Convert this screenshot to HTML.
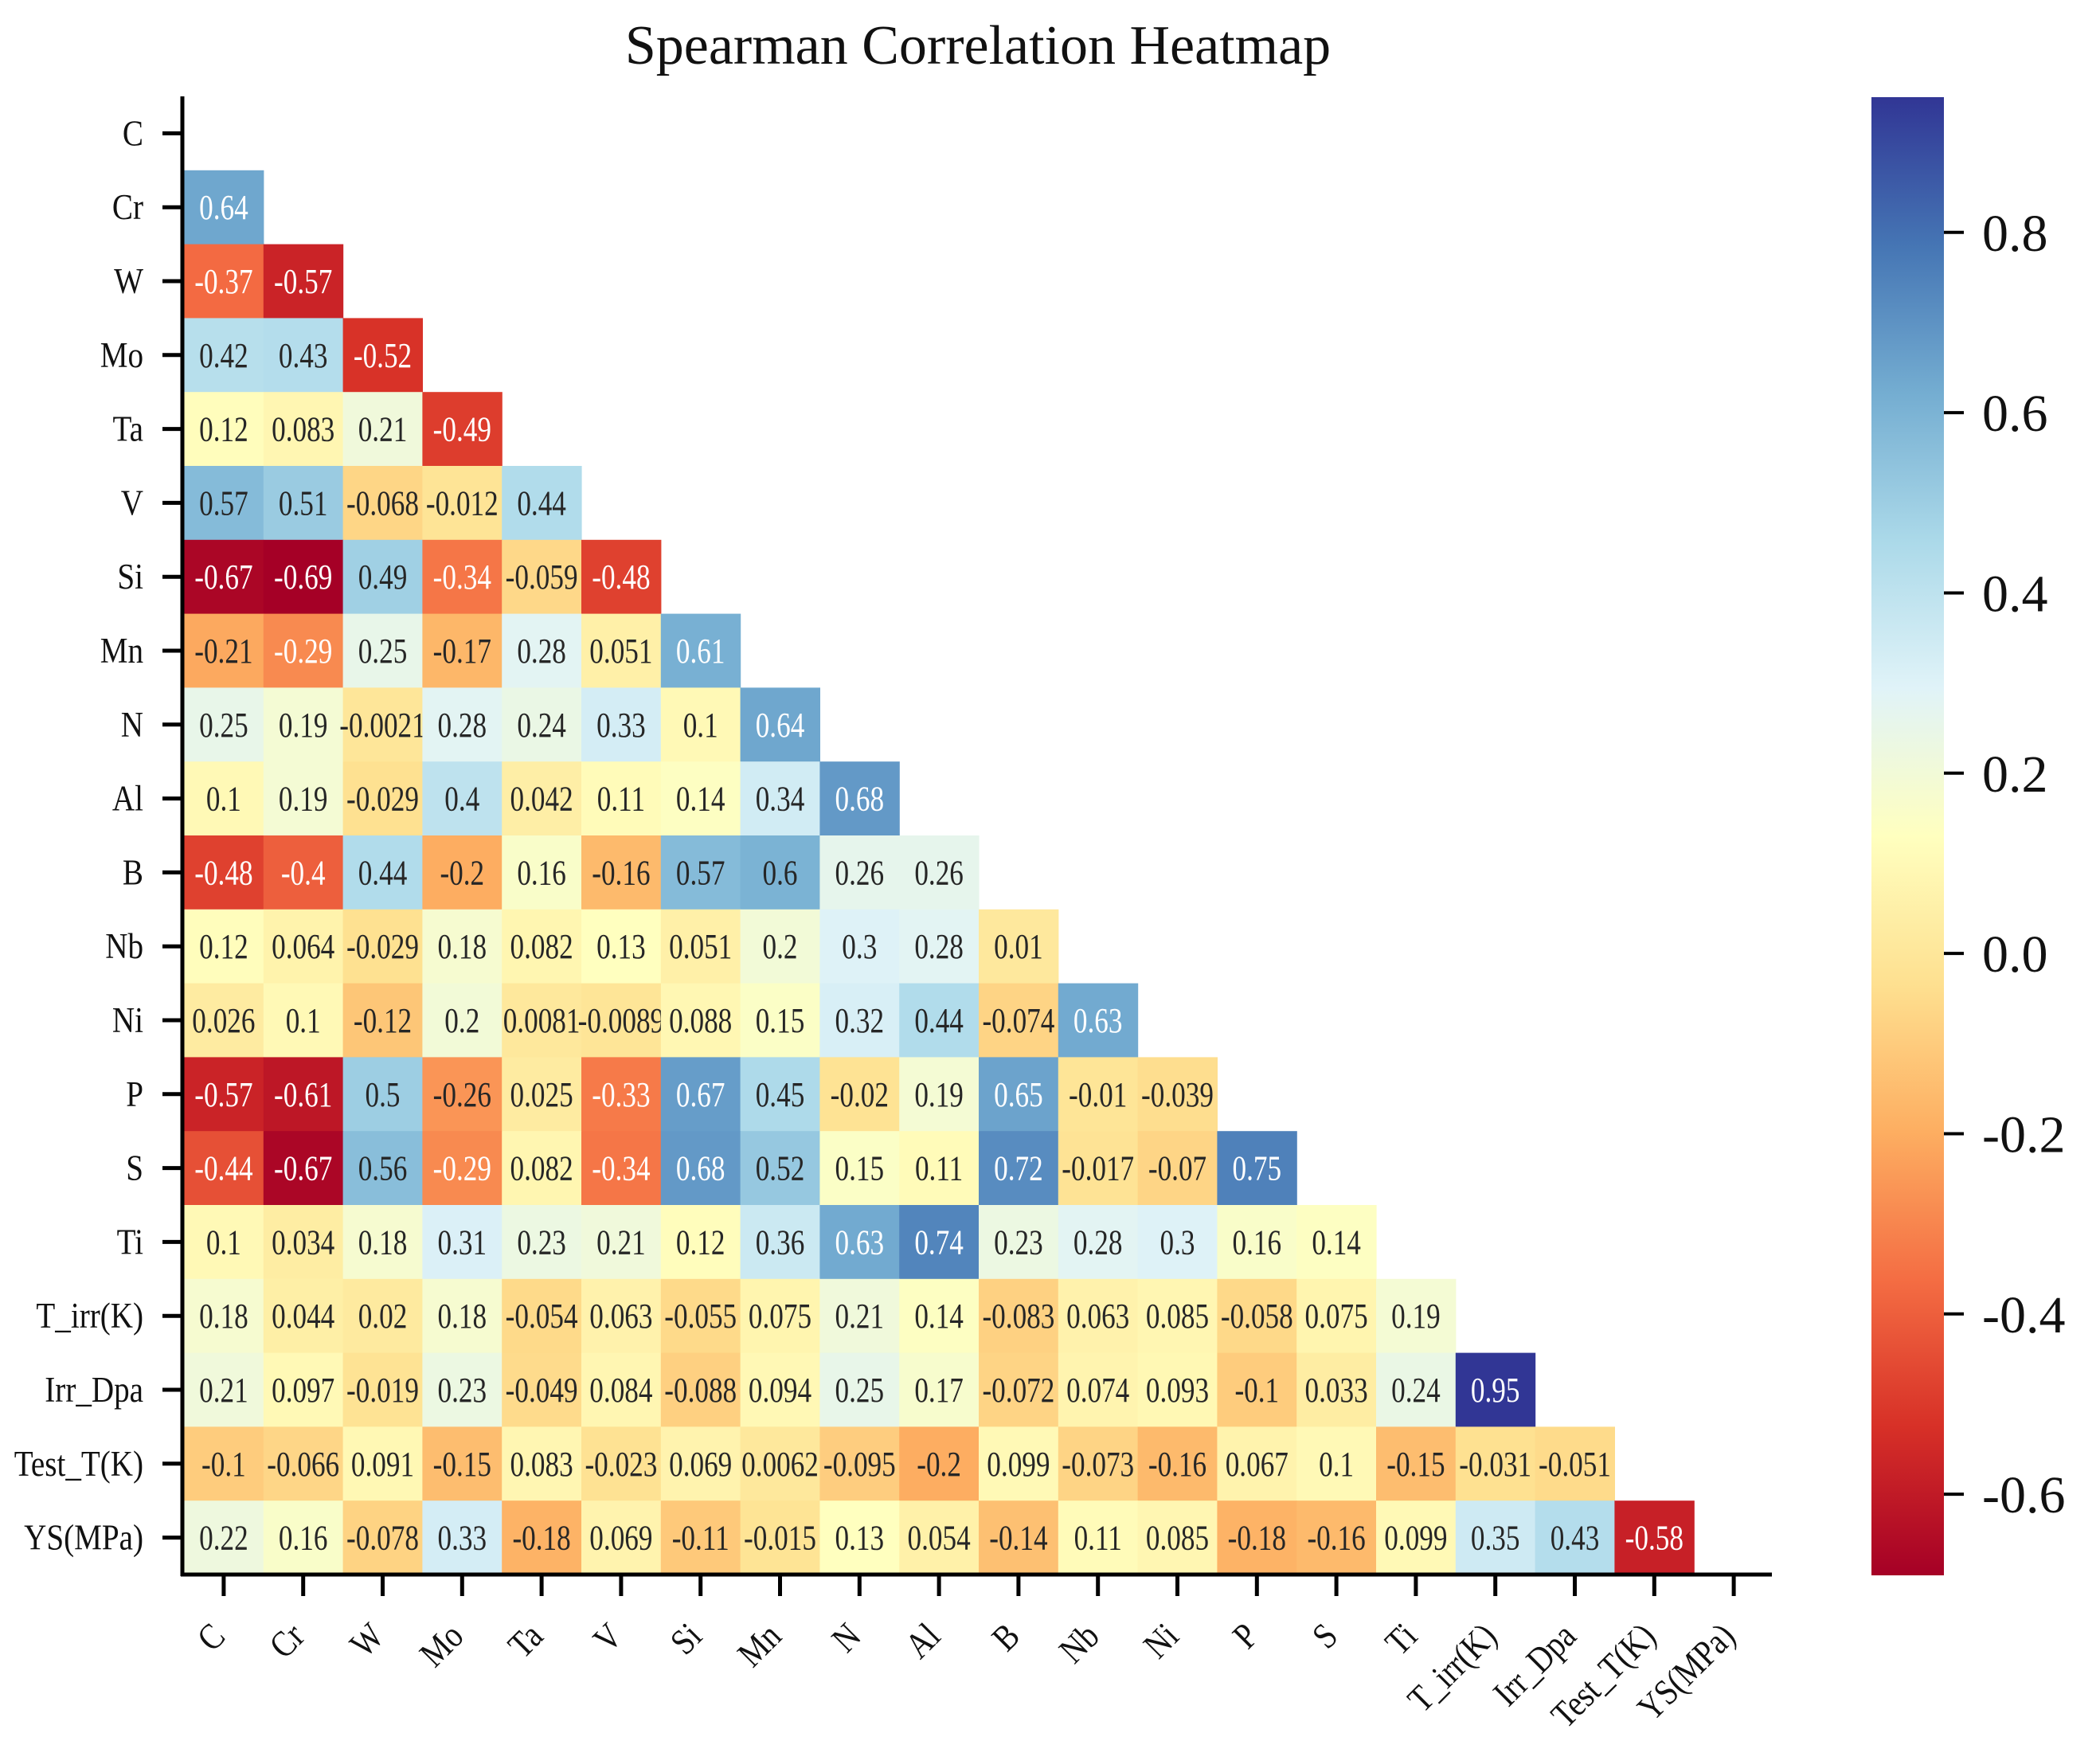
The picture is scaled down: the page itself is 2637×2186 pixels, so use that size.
<!DOCTYPE html>
<html><head><meta charset="utf-8">
<style>
html,body{margin:0;padding:0;background:#fff;}
svg{display:block;font-family:"Liberation Serif","DejaVu Serif",serif;}
</style></head>
<body>
<svg id="chart" width="2637" height="2186" viewBox="0 0 2637 2186" xmlns="http://www.w3.org/2000/svg">
<defs>
<linearGradient id="cbgrad" x1="0" y1="1" x2="0" y2="0">
<stop offset="0" stop-color="#a50026"/><stop offset="0.1" stop-color="#d73027"/><stop offset="0.2" stop-color="#f46d43"/><stop offset="0.3" stop-color="#fdae61"/><stop offset="0.4" stop-color="#fee090"/><stop offset="0.5" stop-color="#ffffbf"/><stop offset="0.6" stop-color="#e0f3f8"/><stop offset="0.7" stop-color="#abd9e9"/><stop offset="0.8" stop-color="#74add1"/><stop offset="0.9" stop-color="#4575b4"/><stop offset="1" stop-color="#313695"/>
</linearGradient>
</defs>
<text x="1228" y="80" font-size="70" text-anchor="middle" fill="#111">Spearman Correlation Heatmap</text>
<g id="cells"></g>
<g id="axes"></g>
<g id="colorbar"></g>
</svg>
<script>
const labels = ["C","Cr","W","Mo","Ta","V","Si","Mn","N","Al","B","Nb","Ni","P","S","Ti","T_irr(K)","Irr_Dpa","Test_T(K)","YS(MPa)"];
const rowCr = [0.64];
const rowW = [-0.37,-0.57];
const rowMo = [0.42,0.43,-0.52];
const rowTa = [0.12,0.083,0.21,-0.49];
const rowV = [0.57,0.51,-0.068,-0.012,0.44];
const rowSi = [-0.67,-0.69,0.49,-0.34,-0.059,-0.48];
const rowMn = [-0.21,-0.29,0.25,-0.17,0.28,0.051,0.61];
const rowN = [0.25,0.19,-0.0021,0.28,0.24,0.33,0.1,0.64];
const rowAl = [0.1,0.19,-0.029,0.4,0.042,0.11,0.14,0.34,0.68];
const rowB = [-0.48,-0.4,0.44,-0.2,0.16,-0.16,0.57,0.6,0.26,0.26];
const rowNb = [0.12,0.064,-0.029,0.18,0.082,0.13,0.051,0.2,0.3,0.28,0.01];
const rowNi = [0.026,0.1,-0.12,0.2,0.0081,-0.0089,0.088,0.15,0.32,0.44,-0.074,0.63];
const rowP = [-0.57,-0.61,0.5,-0.26,0.025,-0.33,0.67,0.45,-0.02,0.19,0.65,-0.01,-0.039];
const rowS = [-0.44,-0.67,0.56,-0.29,0.082,-0.34,0.68,0.52,0.15,0.11,0.72,-0.017,-0.07,0.75];
const rowTi = [0.1,0.034,0.18,0.31,0.23,0.21,0.12,0.36,0.63,0.74,0.23,0.28,0.3,0.16,0.14];
const rowTirr = [0.18,0.044,0.02,0.18,-0.054,0.063,-0.055,0.075,0.21,0.14,-0.083,0.063,0.085,-0.058,0.075,0.19];
const rowIrr = [0.21,0.097,-0.019,0.23,-0.049,0.084,-0.088,0.094,0.25,0.17,-0.072,0.074,0.093,-0.1,0.033,0.24,0.95];
const rowTest = [-0.1,-0.066,0.091,-0.15,0.083,-0.023,0.069,0.0062,-0.095,-0.2,0.099,-0.073,-0.16,0.067,0.1,-0.15,-0.031,-0.051];
const rowYS = [0.22,0.16,-0.078,0.33,-0.18,0.069,-0.11,-0.015,0.13,0.054,-0.14,0.11,0.085,-0.18,-0.16,0.099,0.35,0.43,-0.58];
const rows = [[],rowCr,rowW,rowMo,rowTa,rowV,rowSi,rowMn,rowN,rowAl,rowB,rowNb,rowNi,rowP,rowS,rowTi,rowTirr,rowIrr,rowTest,rowYS];
const cbTicks = [0.8,0.6,0.4,0.2,0.0,-0.2,-0.4,-0.6];
const vmin = -0.69, vmax = 0.95;

const NS = "http://www.w3.org/2000/svg";
const gridLeft = 231, gridTop = 121, cw = 99.8, ch = 92.8;
const gridBottom = gridTop + 20*ch;
const xPos = i => gridLeft + i*cw;
const yPos = j => gridTop + j*ch;
const cbX = 2350, cbW = 91, cbTop = 122, cbBot = 1978;
const cbY = v => cbBot - (v - vmin)/(vmax - vmin)*(cbBot - cbTop);

const stops = ["#a50026","#d73027","#f46d43","#fdae61","#fee090","#ffffbf","#e0f3f8","#abd9e9","#74add1","#4575b4","#313695"].map(h=>[parseInt(h.slice(1,3),16),parseInt(h.slice(3,5),16),parseInt(h.slice(5,7),16)]);
function cmap(v){
  let t = Math.max(0, Math.min(1, (v - vmin)/(vmax - vmin)))*10;
  let i = Math.min(9, Math.floor(t)), f = t - i;
  return stops[i].map((c,k)=>Math.round(c + (stops[i+1][k]-c)*f));
}
function lum(rgb){
  const c = rgb.map(x=>{x/=255;return x<=0.03928?x/12.92:Math.pow((x+0.055)/1.055,2.4);});
  return 0.2126*c[0]+0.7152*c[1]+0.0722*c[2];
}
function mk(tag, attrs, parent){
  const e = document.createElementNS(NS, tag);
  for (const k in attrs) e.setAttribute(k, attrs[k]);
  parent.appendChild(e);
  return e;
}
const cells = document.getElementById("cells");
rows.forEach((vals, j) => {
  vals.forEach((v, i) => {
    const rgb = cmap(v);
    const r = mk("rect", {x: xPos(i), y: yPos(j), width: cw+0.6, height: ch+0.6, fill: `rgb(${rgb})`}, cells);
    
    
    const cx = xPos(i) + cw/2, cy = yPos(j) + ch/2 + 15;
    const t = mk("text", {transform: `translate(${cx},${cy}) scale(0.8,1)`, "text-anchor": "middle", "font-size": 44, fill: lum(rgb) < 0.408 ? "#fff" : "#262626"}, cells);
    
    
    t.textContent = String(v);
  });
});
const axes = document.getElementById("axes");
const yl = mk("line", {x1: gridLeft-2, y1: gridTop, x2: gridLeft-2, y2: gridBottom+2, stroke: "#000", "stroke-width": 5}, axes);


const xl = mk("line", {x1: gridLeft-4, y1: gridBottom, x2: 2225, y2: gridBottom, stroke: "#000", "stroke-width": 5}, axes);


labels.forEach((lab, j) => {
  const y = yPos(j) + ch/2;
  const tk = mk("line", {x1: gridLeft-27, y1: y, x2: gridLeft, y2: y, stroke: "#000", "stroke-width": 5}, axes);
  
  
  const tl = mk("text", {transform: `translate(180,${y+15}) scale(0.85,1)`, "text-anchor": "end", "font-size": 46, fill: "#111"}, axes);
  
  
  tl.textContent = lab;
});
labels.forEach((lab, i) => {
  const x = xPos(i) + cw/2;
  const tk = mk("line", {x1: x, y1: gridBottom, x2: x, y2: gridBottom+27, stroke: "#000", "stroke-width": 5}, axes);
  
  
  const tl = mk("text", {transform: `translate(${x+4},${gridBottom+80}) rotate(-45) scale(0.85,1)`, "text-anchor": "end", "font-size": 46, fill: "#111"}, axes);
  
  
  tl.textContent = lab;
});
const cb = document.getElementById("colorbar");
const cbr = mk("rect", {x: cbX, y: cbTop, width: cbW, height: cbBot-cbTop, fill: "url(#cbgrad)"}, cb);


cbTicks.forEach(v => {
  const y = cbY(v);
  const tk = mk("line", {x1: cbX+cbW, y1: y, x2: cbX+cbW+25, y2: y, stroke: "#000", "stroke-width": 4}, cb);
  
  
  const tl = mk("text", {x: cbX+cbW+48, y: y+23, "font-size": 66, fill: "#111"}, cb);
  
  
  tl.textContent = v.toFixed(1);
});
</script>
</body></html>
